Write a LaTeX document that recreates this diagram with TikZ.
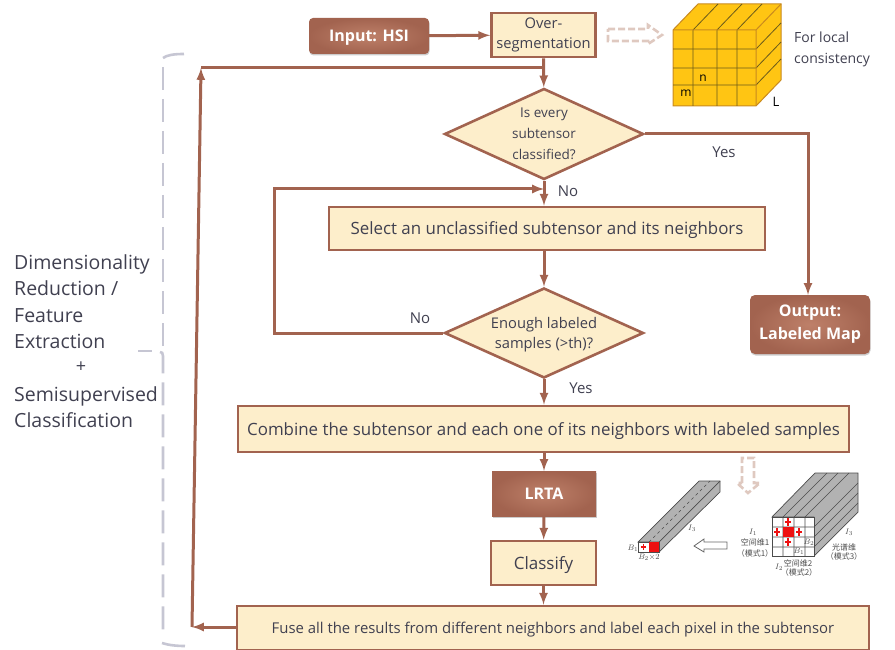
\documentclass[tikz,border=0pt]{standalone}
\usepackage{fontspec}
\setmainfont{Open Sans}
\newfontfamily\cjk{Noto Sans CJK SC}
\usetikzlibrary{shapes.geometric,shadows}

\definecolor{linebrown}{HTML}{A2634F}
\definecolor{boxcream}{HTML}{FDEECB}
\definecolor{inktext}{HTML}{404050}
\definecolor{bracegray}{HTML}{C6C6D3}
\definecolor{paleline}{HTML}{DFC9C0}
\definecolor{cubegold}{HTML}{FFC513}
\definecolor{cubeedge}{HTML}{C98A1E}
\definecolor{cubegrid}{HTML}{6B5A1A}
\definecolor{brownlight}{HTML}{BE8069}
\definecolor{cellred}{HTML}{EE1111}

\tikzset{
  flowbox/.style={draw=linebrown, line width=2.6pt, fill=boxcream, text=inktext, inner sep=0pt, align=center},
  brownbox/.style={draw=none, inner color=brownlight, outer color=linebrown, text=white, font=\bfseries\fontsize{16}{18}\selectfont, inner sep=0pt, align=center, drop shadow={shadow xshift=0.5pt, shadow yshift=-1.5pt, opacity=0.4}},
  oneline/.style={text depth=0pt},
  choice/.style={diamond, flowbox, aspect=2.2},
  link/.style={draw=linebrown, line width=3pt, ->},
  tag/.style={text=inktext, font=\fontsize{15}{18}\selectfont},
  brace/.style={draw=bracegray, line width=2.6pt, dash pattern=on 23pt off 9pt},
  hollow/.style={draw=paleline, line width=2.6pt, dash pattern=on 7pt off 3pt},
  tiny/.style={font=\fontsize{8}{9}\selectfont, text=black!70, inner sep=0pt},
}

\begin{document}
\begin{tikzpicture}[x=1pt, y=-1pt, >=latex]

   \useasboundingbox (0,0) rectangle (895,650);

   % boxes of the flow
   \node[brownbox, oneline, rounded corners=4pt, minimum width=120pt, minimum height=36pt] (input) at (369,36) {Input: HSI};
   \node[flowbox, minimum width=104pt, minimum height=44pt, font=\fontsize{14.7}{20}\selectfont] (overseg) at (543.5,35) {Over-\\segmentation};
   \node[choice, minimum width=199pt, minimum height=91pt, font=\fontsize{13.5}{21}\selectfont] (everyone) at (544,134) {Is every\\subtensor\\classified?};
   \node[flowbox, oneline, minimum width=436pt, minimum height=43pt, font=\fontsize{16.9}{20}\selectfont] (pick) at (547,228.5) {Select an unclassified subtensor and its neighbors};
   \node[choice, text depth=-4pt, minimum width=199pt, minimum height=90pt, font=\fontsize{14.7}{20}\selectfont] (enough) at (544,333) {Enough labeled\\samples (>th)?};
   \node[flowbox, oneline, minimum width=611pt, minimum height=46pt, font=\fontsize{16.9}{20}\selectfont] (combine) at (543.5,429) {Combine the subtensor and each one of its neighbors with labeled samples};
   \node[brownbox, oneline, minimum width=104pt, minimum height=45pt] (lrta) at (544,493.5) {LRTA};
   \node[flowbox, text depth=-3pt, minimum width=105pt, minimum height=44pt, font=\fontsize{17}{20}\selectfont] (classify) at (543.5,563) {Classify};
   \node[flowbox, oneline, minimum width=632pt, minimum height=44pt, font=\fontsize{14.9}{20}\selectfont] (fuse) at (553,628) {Fuse all the results from different neighbors and label each pixel in the subtensor};
   \node[brownbox, rounded corners=5pt, minimum width=120pt, minimum height=59pt, font=\bfseries\fontsize{16}{23}\selectfont] (result) at (810,324.5) {Output:\\Labeled Map};

   \coordinate (loopbottom) at (192,627);
   \coordinate (looptop) at (201,68);
   \coordinate (loopjoin) at (544,68);
   \coordinate (yesturn) at (808,134);
   \coordinate (noleft) at (274,333);
   \coordinate (noup) at (274,189);
   \coordinate (nojoin) at (544,189);

   % connectors
   \draw[link] (input) -- (overseg);
   \draw[link] (overseg) -- (everyone);
   \draw[link] (everyone) -- (pick.north -| everyone);
   \draw[link] (pick.south -| enough) -- (enough);
   \draw[link] (enough) -- (combine.north -| enough);
   \draw[link] (combine.south -| lrta) -- (lrta);
   \draw[link] (lrta) -- (classify);
   \draw[link] (classify) -- (fuse.north -| classify);
   \draw[link] (everyone.east) -- (yesturn) -- (result.north -| yesturn);
   \draw[link] (enough.west) -- (noleft) -- (noup) -- (nojoin);
   \draw[link] (fuse.west |- loopbottom) -- (loopbottom);
   \draw[link] (loopbottom) -- (looptop);
   \draw[draw=linebrown, line width=3pt] (looptop) -- (loopjoin);

   % connector labels
   \node[tag] (yeslabel) at (724,152) {Yes};
   \node[tag] (nolabel) at (568,191) {No};
   \node[tag] (nolabeltwo) at (420,318) {No};
   \node[tag] (yeslabeltwo) at (581,388) {Yes};

   % bracket at the left
   \draw[draw=bracegray, line width=2.6pt] (184,54) .. controls (174,54) and (167,55) .. (163,58);
   \draw[brace] (163,67) -- (163,348);
   \draw[draw=bracegray, line width=2.6pt] (138,351) -- (152,351);
   \draw[brace] (160,352) .. controls (162,352) and (163,353) .. (163,356) -- (163,633);
   \draw[draw=bracegray, line width=2.6pt] (162,643) .. controls (168,645) and (176,646) .. (185,646);

   \node[text=inktext, align=left, anchor=north west, inner sep=0pt, font=\fontsize{19.5}{26.5}\selectfont] (dimtext) at (14,254) {Dimensionality\\Reduction /\\Feature\\Extraction};
   \node[text=inktext, inner sep=0pt, font=\fontsize{18}{22}\selectfont] (plustext) at (81,367) {+};
   \node[text=inktext, align=left, anchor=north west, inner sep=0pt, font=\fontsize{19.5}{26.5}\selectfont] (semitext) at (14,386) {Semisupervised\\Classification};

   % cube of subtensors
   \filldraw[fill=cubegold, draw=cubeedge, line width=1pt] (673,30) -- (698,4) -- (781,4) -- (781,80) -- (756,106) -- (673,106) -- cycle;
   \foreach \gx in {693,717,737}
     \draw[cubegrid, line width=0.8pt] (\gx,30) -- (\gx,106) (\gx,30) -- ++(25,-26);
   \foreach \gy in {49,68,85}
     \draw[cubegrid, line width=0.8pt] (673,\gy) -- (756,\gy) -- ++(25,-26);
   \draw[draw=cubeedge, line width=1pt] (673,30) -- (756,30) -- (781,4) (756,30) -- (756,106);
   \node[inner sep=0pt, font=\fontsize{12}{14}\selectfont] (mlabel) at (686,93) {m};
   \node[inner sep=0pt, font=\fontsize{12}{14}\selectfont] (nlabel) at (703,78) {n};
   \node[inner sep=0pt, font=\fontsize{13}{14}\selectfont] (llabel) at (776,102) {L};
   \node[text=inktext, align=left, anchor=west, inner sep=0pt, font=\fontsize{14}{21}\selectfont] (localtext) at (794,49) {For local\\consistency};

   % pale dashed arrows
   \draw[hollow] (608,29) -- (648,29) -- (648,25) -- (662,35) -- (648,44) -- (648,41) -- (608,41) -- cycle;
   \draw[hollow] (742,483) -- (742,458) -- (754,458) -- (754,483) -- (760,483) -- (748,493) -- (737,483) -- cycle;

   % open arrow between the tensors
   \draw[black!60, line width=0.8pt] (694,546) -- (704,539) -- (704,542) -- (727,542) -- (727,549) -- (704,549) -- (704,552) -- cycle;

   % big tensor
   \filldraw[fill=black!30, draw=black!70, line width=0.7pt] (772,517) -- (815,473) -- (858,473) -- (858,512) -- (814,556) -- (814,517) -- cycle;
   \filldraw[fill=white, draw=black!70, line width=0.7pt] (772,517) rectangle (814,556);
   \foreach \gx in {783,794,805}
     \draw[black!70, line width=0.6pt] (\gx,517) -- (\gx,556) (\gx,517) -- ++(44,-44);
   \foreach \gy in {527,537,547}
     \draw[black!70, line width=0.6pt] (772,\gy) -- (814,\gy) -- ++(44,-44);
   \fill[cellred] (783,527) rectangle (794,537);
   \foreach \px/\py in {788/522,777/532,799/532,788/542}
     \draw[cellred, line width=1.4pt] (\px-3,\py) -- (\px+3,\py) (\px,\py-4) -- (\px,\py+4);

   \node[tiny] (bigione) at (753,532) {$I_1$};
   \node[tiny] (bigdimone) at (755,542) {\cjk 空间维1};
   \node[tiny] (bigmodeone) at (755,553) {\cjk （模式1）};
   \node[tiny] (bigbtwo) at (809,542) {$B_2$};
   \node[tiny] (bigbone) at (799,551) {$B_1$};
   \node[tiny] (bigithree) at (849,532) {$I_3$};
   \node[tiny] (bigdimthree) at (844,547) {\cjk 光谱维};
   \node[tiny] (bigmodethree) at (844,556) {\cjk （模式3）};
   \node[tiny] (bigdimtwo) at (798,563) {\cjk 空间维2};
   \node[tiny] (bigmodetwo) at (799,572) {\cjk （模式2）};
   \node[tiny] (bigitwo) at (779,567) {$I_2$};

   % small tensor
   \filldraw[fill=black!30, draw=black!70, line width=0.7pt] (638,542) -- (699,481) -- (720,481) -- (720,492) -- (659,552) -- (659,542) -- cycle;
   \draw[black!70, line width=0.7pt] (659,542) -- (720,481);
   \draw[black!70, line width=0.5pt, dashed] (649,542) -- (710,481);
   \filldraw[fill=white, draw=black!70, line width=0.7pt] (638,542) rectangle (659,552);
   \fill[cellred] (649,542) rectangle (659,552);
   \draw[cellred, line width=1.4pt] (640.5,547) -- (646,547) (643.5,544) -- (643.5,550);

   \node[tiny] (smallithree) at (692,528) {$I_3$};
   \node[tiny] (smallbone) at (633,548) {$B_1$};
   \node[tiny] (smallbtwo) at (649,557) {$B_2{\times}2$};

\end{tikzpicture}
\end{document}
